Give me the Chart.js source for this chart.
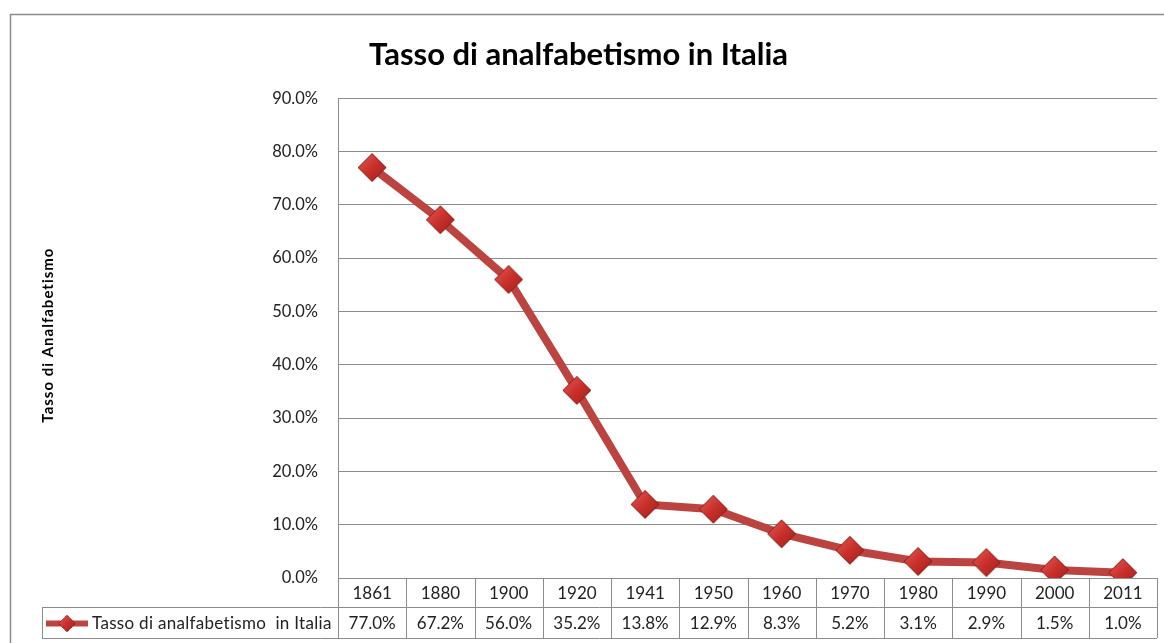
<!DOCTYPE html>
<html>
<head>
<meta charset="utf-8">
<script src="https://cdn.jsdelivr.net/npm/chart.js@4/dist/chart.umd.min.js"></script>
<style>
  html, body { margin: 0; padding: 0; background: #fff; }
  #wrap { width: 1164px; height: 643px; position: relative; }
</style>
</head>
<body>
<div id="wrap"><canvas id="illiteracyChart"></canvas></div>
<script>
// Data
const years = ["1861", "1880", "1900", "1920", "1941", "1950", "1960", "1970", "1980", "1990", "2000", "2011"];
const rates = [77.0, 67.2, 56.0, 35.2, 13.8, 12.9, 8.3, 5.2, 3.1, 2.9, 1.5, 1.0];
const yMin = 0;
const yMax = 90;
const yStep = 10;

const chartTitle = "Tasso di analfabetismo in Italia";
const axisTitle = "Tasso di Analfabetismo";
const seriesName = "Tasso di analfabetismo  in Italia";

const gridColor = "#8c8c8c";
const lineColor = "#bb4440";
const fontFamily = "Lato, 'Open Sans', sans-serif";

// Diamond marker, drawn once on a small canvas and used as point style
function makeDiamond(size) {
    const c = document.createElement("canvas");
    c.width = size;
    c.height = size;
    const g = c.getContext("2d");
    const h = size / 2;
    const grad = g.createLinearGradient(0, 0, size, size);
    grad.addColorStop(0, "#e8605a");
    grad.addColorStop(0.5, "#c9302b");
    grad.addColorStop(1, "#9e1f1b");
    g.beginPath();
    g.moveTo(h, 1);
    g.lineTo(size - 1, h);
    g.lineTo(h, size - 1);
    g.lineTo(1, h);
    g.closePath();
    g.fillStyle = grad;
    g.fill();
    g.lineWidth = 1;
    g.strokeStyle = "#8a1c19";
    g.stroke();
    return c;
}
const diamond = makeDiamond(30);

// Frame, y title and data table under the plot
const tablePlugin = {
    id: "tablePlugin",
    beforeDraw(chart) {
        const ctx = chart.ctx;
        ctx.save();
        ctx.strokeStyle = "#8a8a8a";
        ctx.lineWidth = 1.5;
        ctx.strokeRect(10.5, 14.5, 1400, 800);
        ctx.restore();
    },
    afterDraw(chart) {
        const ctx = chart.ctx;
        const area = chart.chartArea;
        const x = chart.scales.x;
        const colW = x.getPixelForValue(1) - x.getPixelForValue(0);
        const top = area.bottom;
        const mid = top + 29;
        const bot = mid + 31;
        const legendLeft = 42;

        ctx.save();
        // y axis title
        ctx.translate(48, (area.top + area.bottom) / 2 - 3);
        ctx.rotate(-Math.PI / 2);
        ctx.font = "bold 15px " + fontFamily;
        ctx.letterSpacing = "1px";
        ctx.fillStyle = "#000";
        ctx.textAlign = "center";
        ctx.textBaseline = "middle";
        ctx.fillText(axisTitle, 0, 0);
        ctx.restore();

        ctx.save();
        ctx.strokeStyle = gridColor;
        ctx.lineWidth = 1;
        ctx.beginPath();
        ctx.moveTo(legendLeft, Math.round(mid) + 0.5);
        ctx.lineTo(area.right, Math.round(mid) + 0.5);
        ctx.moveTo(legendLeft, Math.round(bot) + 0.5);
        ctx.lineTo(area.right, Math.round(bot) + 0.5);
        ctx.moveTo(legendLeft + 0.5, mid);
        ctx.lineTo(legendLeft + 0.5, bot);
        for (let i = 0; i <= years.length; i++) {
            const bx = Math.round(area.left + i * colW) + 0.5;
            ctx.moveTo(bx, top);
            ctx.lineTo(bx, bot);
        }
        ctx.stroke();

        ctx.fillStyle = "#222";
        ctx.textAlign = "center";
        ctx.textBaseline = "middle";
        ctx.font = "17px " + fontFamily;
        years.forEach((yr, i) => {
            const cx = x.getPixelForValue(i);
            ctx.fillText(yr, cx, (top + mid) / 2 + 1);
            ctx.fillText(rates[i].toFixed(1) + "%", cx, (mid + bot) / 2 + 1);
        });

        // legend key inside the table
        const ly = (mid + bot) / 2 + 1;
        ctx.strokeStyle = lineColor;
        ctx.lineWidth = 6;
        ctx.beginPath();
        ctx.moveTo(46, ly);
        ctx.lineTo(88, ly);
        ctx.stroke();
        ctx.drawImage(diamond, 67 - 9, ly - 9, 18, 18);
        ctx.textAlign = "left";
        ctx.font = "17px " + fontFamily;
        ctx.letterSpacing = "0.3px";
        ctx.fillText(seriesName, 92, ly);
        ctx.restore();
    }
};

const ctx = document.getElementById("illiteracyChart").getContext("2d");
new Chart(ctx, {
    type: "line",
    data: {
        labels: years,
        datasets: [{
            label: seriesName,
            data: rates,
            borderColor: lineColor,
            borderWidth: 8,
            tension: 0,
            pointStyle: diamond,
            pointRadius: 15,
            pointHoverRadius: 15
        }]
    },
    options: {
        responsive: true,
        maintainAspectRatio: false,
        animation: false,
        events: [],
        layout: {
            autoPadding: false,
            padding: { left: 0, right: 7, top: 0, bottom: 65 }
        },
        plugins: {
            legend: { display: false },
            tooltip: { enabled: false },
            title: {
                display: true,
                text: chartTitle,
                color: "#000",
                font: { family: fontFamily, size: 31, weight: "bold" },
                padding: { top: 36, bottom: 25 }
            }
        },
        scales: {
            x: {
                type: "category",
                offset: true,
                display: false
            },
            y: {
                min: yMin,
                max: yMax,
                afterFit(scale) { scale.width = 338; },
                grid: { color: gridColor, drawTicks: false },
                border: { display: true, color: gridColor },
                ticks: {
                    stepSize: yStep,
                    padding: 20,
                    color: "#222",
                    font: { family: fontFamily, size: 16.5 },
                    callback: v => v.toFixed(1) + "%"
                }
            }
        }
    },
    plugins: [tablePlugin]
});
</script>
</body>
</html>
